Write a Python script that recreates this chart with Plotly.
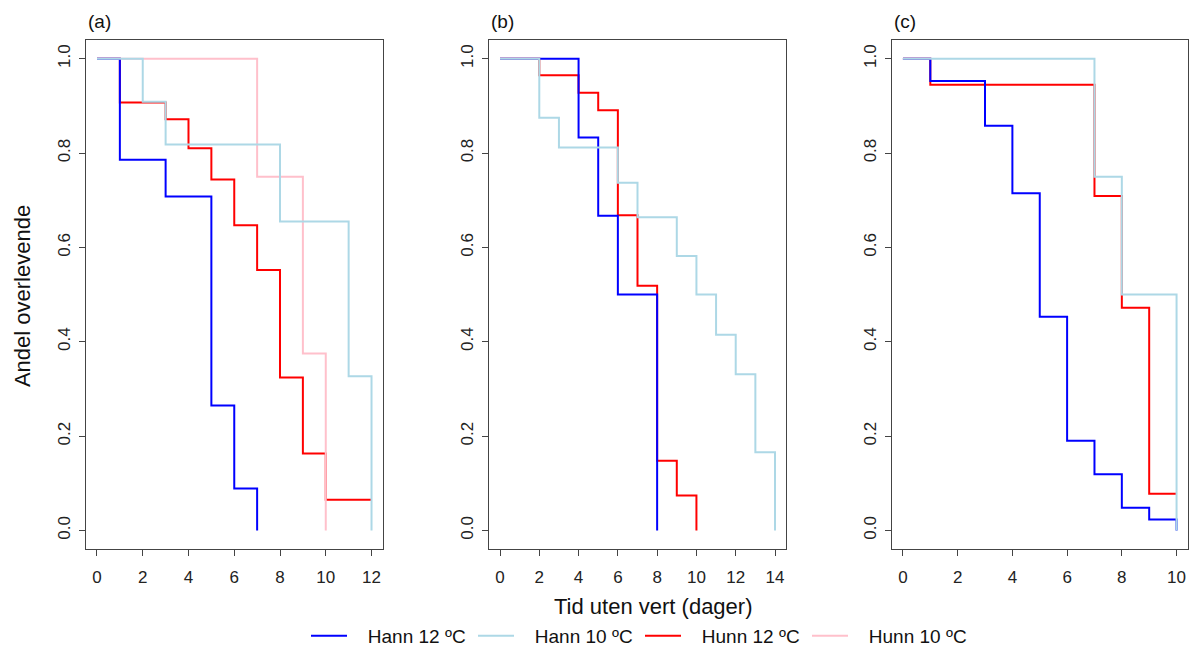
import plotly.graph_objects as go

# ---- data ----
panels = ["(a)", "(b)", "(c)"]
series_names = ["Hann 12 ºC", "Hann 10 ºC", "Hunn 12 ºC", "Hunn 10 ºC"]
colors = {"Hann 12 ºC": "#0000FF", "Hann 10 ºC": "#ADD8E6",
          "Hunn 12 ºC": "#FF0000", "Hunn 10 ºC": "#FFC0CB"}

# panel (a)
a_hann12_t = [0, 1, 3, 5, 6, 7]
a_hann12_s = [1, 0.786, 0.708, 0.265, 0.089, 0]
a_hann10_t = [0, 2, 3, 8, 11, 12]
a_hann10_s = [1, 0.909, 0.818, 0.655, 0.327, 0]
a_hunn12_t = [0, 1, 3, 4, 5, 6, 7, 8, 9, 10, 12]
a_hunn12_s = [1, 0.907, 0.872, 0.81, 0.744, 0.647, 0.552, 0.324, 0.163, 0.065, 0.065]
a_hunn10_t = [0, 7, 9, 10]
a_hunn10_s = [1, 0.75, 0.375, 0]

# panel (b)
b_hann12_t = [0, 4, 5, 6, 8]
b_hann12_s = [1, 0.833, 0.667, 0.5, 0]
b_hann10_t = [0, 2, 3, 6, 7, 9, 10, 11, 12, 13, 14]
b_hann10_s = [1, 0.875, 0.812, 0.737, 0.664, 0.582, 0.5, 0.415, 0.331, 0.166, 0]
b_hunn12_t = [0, 2, 4, 5, 6, 7, 8, 9, 10]
b_hunn12_s = [1, 0.965, 0.928, 0.891, 0.668, 0.519, 0.148, 0.074, 0]

# panel (c)
c_hann12_t = [0, 1, 3, 4, 5, 6, 7, 8, 9, 10]
c_hann12_s = [1, 0.953, 0.858, 0.715, 0.453, 0.19, 0.119, 0.048, 0.023, 0]
c_hann10_t = [0, 7, 8, 10]
c_hann10_s = [1, 0.75, 0.5, 0]
c_hunn12_t = [0, 1, 7, 8, 9, 10]
c_hunn12_s = [1, 0.945, 0.709, 0.472, 0.078, 0.078]

x_max = [12, 14, 10]
x_ticks = [list(range(0, 13, 2)), list(range(0, 15, 2)), list(range(0, 11, 2))]
y_ticks = [0.0, 0.2, 0.4, 0.6, 0.8, 1.0]

panel_data = [
    {"Hunn 12 ºC": (a_hunn12_t, a_hunn12_s), "Hunn 10 ºC": (a_hunn10_t, a_hunn10_s),
     "Hann 12 ºC": (a_hann12_t, a_hann12_s), "Hann 10 ºC": (a_hann10_t, a_hann10_s)},
    {"Hunn 12 ºC": (b_hunn12_t, b_hunn12_s),
     "Hann 12 ºC": (b_hann12_t, b_hann12_s), "Hann 10 ºC": (b_hann10_t, b_hann10_s)},
    {"Hunn 12 ºC": (c_hunn12_t, c_hunn12_s),
     "Hann 12 ºC": (c_hann12_t, c_hann12_s), "Hann 10 ºC": (c_hann10_t, c_hann10_s)},
]

# ---- layout geometry ----
W, H = 1196, 655
x_doms = [(86, 382.5), (489, 786), (892, 1187.5)]
y_top, y_bot = 40, 551
FONT = "Arial, Liberation Sans, sans-serif"
PAD = "\u00a0\u00a0\u00a0"  # small gap between legend sample and text

fig = go.Figure()
for i, pdata in enumerate(panel_data):
    xa = "x" if i == 0 else f"x{i+1}"
    ya = "y" if i == 0 else f"y{i+1}"
    for name, (t, s) in pdata.items():
        fig.add_trace(go.Scatter(
            x=t, y=s, mode="lines", line=dict(shape="hv", color=colors[name], width=2),
            name=PAD + name, legendgroup=name, showlegend=(i == 0),
            legendrank=series_names.index(name) + 1,
            xaxis=xa, yaxis=ya, hoverinfo="skip"))

axis_common = dict(showline=True, mirror=True, linecolor="#444", linewidth=1,
                   showgrid=False, zeroline=False, ticks="outside", ticklen=6,
                   tickcolor="#444", tickfont=dict(family=FONT, size=17, color="#222"))
layout = {}
for i in range(3):
    xk = "xaxis" if i == 0 else f"xaxis{i+1}"
    yk = "yaxis" if i == 0 else f"yaxis{i+1}"
    ext = x_max[i] * 0.04
    layout[xk] = dict(domain=[x_doms[i][0] / W, x_doms[i][1] / W],
                      range=[-ext, x_max[i] + ext], tickvals=x_ticks[i],
                      ticklabelstandoff=6,
                      anchor="y" if i == 0 else f"y{i+1}", **axis_common)
    layout[yk] = dict(domain=[1 - y_bot / H, 1 - y_top / H], range=[-0.04, 1.04],
                      tickvals=y_ticks, ticktext=[f"{v:.1f}" for v in y_ticks],
                      tickangle=-90, ticklabelstandoff=2,
                      anchor="x" if i == 0 else f"x{i+1}", **axis_common)
fig.update_layout(**layout)

annotations = []
for i, lab in enumerate(panels):
    annotations.append(dict(text=lab, x=(x_doms[i][0]) / W, y=1 - 22 / H,
                            xref="paper", yref="paper", xanchor="left", yanchor="middle",
                            showarrow=False, font=dict(family=FONT, size=19, color="#111")))
annotations.append(dict(text="Tid uten vert (dager)", x=653 / W, y=1 - 608 / H,
                        xref="paper", yref="paper", xanchor="center", yanchor="middle",
                        showarrow=False, font=dict(family=FONT, size=22, color="#111")))
annotations.append(dict(text="Andel overlevende", x=22 / W, y=1 - 297 / H, textangle=-90,
                        xref="paper", yref="paper", xanchor="center", yanchor="middle",
                        showarrow=False, font=dict(family=FONT, size=22, color="#111")))

fig.update_layout(
    width=W, height=H, margin=dict(l=0, r=0, t=0, b=0),
    paper_bgcolor="white", plot_bgcolor="white",
    annotations=annotations,
    legend=dict(orientation="h", x=306 / W, xanchor="left", y=1 - 638 / H, yanchor="middle",
                entrywidth=116, entrywidthmode="pixels", itemwidth=36,
                font=dict(family=FONT, size=19, color="#111"), bgcolor="rgba(0,0,0,0)"),
)

fig.write_html("out.html")
